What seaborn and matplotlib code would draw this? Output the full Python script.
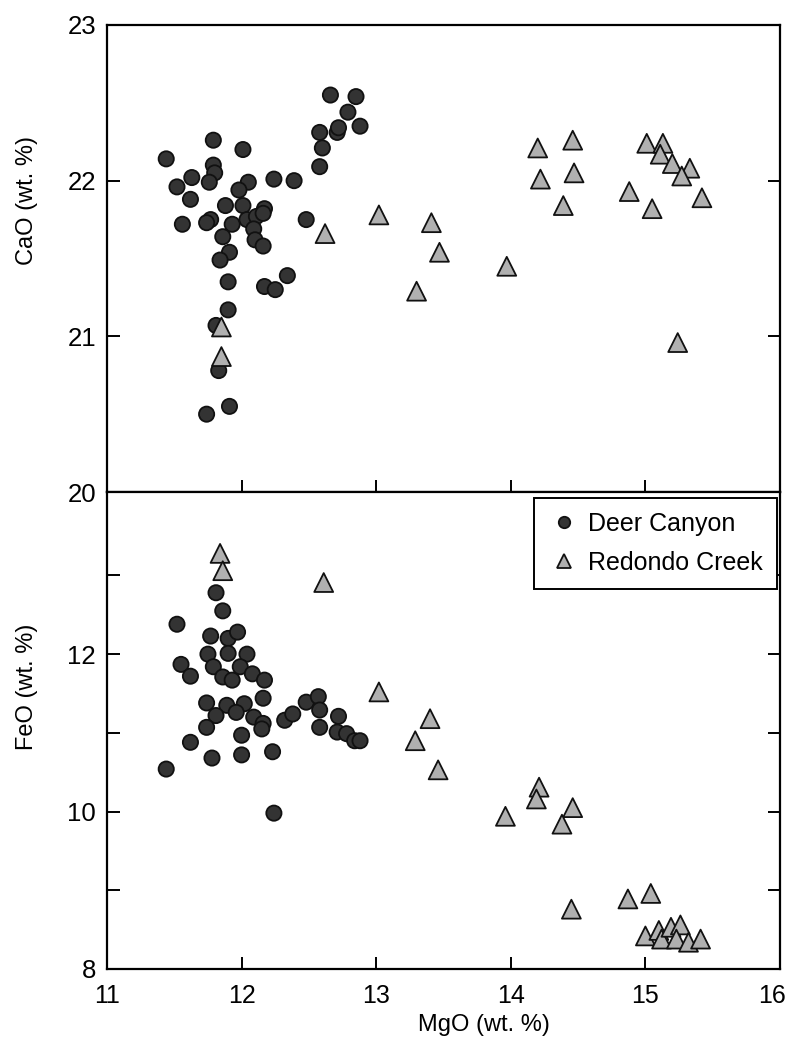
import matplotlib
matplotlib.use("Agg")
import matplotlib.pyplot as plt
import matplotlib.transforms as mtransforms
import seaborn as sns
import pandas as pd

# ---------------- data ----------------
localities = ["Deer Canyon", "Redondo Creek"]

# Upper panel: CaO vs MgO
dc_mgo_top = [12.66, 12.58, 12.71, 12.60, 12.58, 11.79, 12.01, 11.44, 11.79, 11.80,
              11.76, 11.63, 11.52, 11.62, 12.05, 11.98, 12.24, 12.39, 11.88, 11.56,
              11.77, 11.74, 12.01, 12.17, 11.93, 12.04, 12.11, 12.16, 12.09, 12.10,
              12.16, 11.86, 11.91, 11.84, 12.48, 12.34, 12.17, 12.25, 11.90, 11.90,
              11.81, 11.83, 11.91, 11.74, 12.85, 12.79, 12.72, 12.88]
dc_cao = [22.55, 22.31, 22.31, 22.21, 22.09, 22.26, 22.20, 22.14, 22.10, 22.05,
          21.99, 22.02, 21.96, 21.88, 21.99, 21.94, 22.01, 22.00, 21.84, 21.72,
          21.75, 21.73, 21.84, 21.82, 21.72, 21.75, 21.77, 21.79, 21.69, 21.62,
          21.58, 21.64, 21.54, 21.49, 21.75, 21.39, 21.32, 21.30, 21.35, 21.17,
          21.07, 20.78, 20.55, 20.50, 22.54, 22.44, 22.34, 22.35]

rc_mgo_top = [12.62, 11.85, 11.85, 13.02, 13.41, 13.47, 13.30, 13.97, 14.20, 14.46,
              14.22, 14.47, 14.39, 14.88, 15.01, 15.13, 15.11, 15.20, 15.33, 15.27,
              15.05, 15.42, 15.24]
rc_cao = [21.66, 21.06, 20.87, 21.78, 21.73, 21.54, 21.29, 21.45, 22.21, 22.26,
          22.01, 22.05, 21.84, 21.93, 22.24, 22.24, 22.17, 22.11, 22.08, 22.03,
          21.82, 21.89, 20.96]

# Lower panel: FeO vs MgO
dc_mgo_bot = [11.81, 11.86, 11.52, 11.77, 11.90, 11.97, 11.75, 11.90, 12.04, 11.55,
              11.62, 11.79, 11.86, 11.93, 11.99, 12.08, 12.17, 11.74, 11.89, 12.02,
              12.16, 11.81, 11.74, 11.96, 12.09, 12.16, 12.15, 12.32, 12.38, 12.48,
              12.57, 12.58, 12.58, 12.72, 12.71, 12.78, 12.84, 11.62, 12.00, 11.78,
              12.00, 12.23, 11.44, 12.24, 12.88]
dc_feo = [12.78, 12.55, 12.38, 12.23, 12.20, 12.28, 12.00, 12.01, 12.00, 11.87,
          11.72, 11.84, 11.71, 11.67, 11.84, 11.75, 11.67, 11.38, 11.35, 11.37,
          11.44, 11.22, 11.07, 11.26, 11.20, 11.12, 11.05, 11.16, 11.24, 11.39,
          11.46, 11.29, 11.07, 11.21, 11.01, 10.99, 10.90, 10.88, 10.97, 10.68,
          10.72, 10.76, 10.54, 9.98, 10.90]

rc_mgo_bot = [11.84, 11.86, 12.61, 13.02, 13.40, 13.29, 13.46, 14.21, 14.19, 13.96,
              14.46, 14.38, 14.45, 14.87, 15.04, 15.00, 15.10, 15.12, 15.19, 15.26,
              15.23, 15.32, 15.41]
rc_feo = [13.28, 13.06, 12.91, 11.52, 11.18, 10.90, 10.53, 10.31, 10.16, 9.94,
          10.05, 9.84, 8.76, 8.89, 8.96, 8.42, 8.49, 8.38, 8.53, 8.56,
          8.38, 8.34, 8.38]

x_ticks = [11, 12, 13, 14, 15, 16]
cao_ticks = [20, 21, 22, 23]
feo_ticks = [8, 9, 10, 11, 12, 13]
feo_tick_labels = ["8", "", "10", "", "12", ""]

# ---------------- frames ----------------
top_df = pd.DataFrame({
    "MgO": dc_mgo_top + rc_mgo_top,
    "CaO": dc_cao + rc_cao,
    "Locality": [localities[0]] * len(dc_mgo_top) + [localities[1]] * len(rc_mgo_top),
})
bot_df = pd.DataFrame({
    "MgO": dc_mgo_bot + rc_mgo_bot,
    "FeO": dc_feo + rc_feo,
    "Locality": [localities[0]] * len(dc_mgo_bot) + [localities[1]] * len(rc_mgo_bot),
})

# ---------------- style ----------------
sns.set_theme(style="white")
plt.rcParams["font.family"] = ["Liberation Sans", "DejaVu Sans"]
plt.rcParams["text.color"] = "black"
plt.rcParams["axes.labelcolor"] = "black"
plt.rcParams["xtick.color"] = "black"
plt.rcParams["ytick.color"] = "black"

palette = {localities[0]: "#333333", localities[1]: "#b0b0b0"}
markers = {localities[0]: "o", localities[1]: "^"}
sizes = {localities[0]: 120, localities[1]: 185}

fig = plt.figure(figsize=(7.92, 10.49), dpi=100)
W, H = 792.0, 1049.0
ax_top = fig.add_axes([107 / W, 1 - 492 / H, 673 / W, 467 / H])
ax_bot = fig.add_axes([107 / W, 1 - 969 / H, 673 / W, 477 / H])

common = dict(hue="Locality", style="Locality", size="Locality",
              hue_order=localities, style_order=localities, size_order=localities,
              palette=palette, markers=markers, sizes=sizes,
              edgecolor="#111111", linewidth=1.3, zorder=3)

sns.scatterplot(data=top_df, x="MgO", y="CaO", legend=False, ax=ax_top, **common)
sns.scatterplot(data=bot_df, x="MgO", y="FeO", legend=True, ax=ax_bot, **common)

tick_kw = dict(direction="in", length=9, width=1.4, colors="black",
               labelsize=18.5, pad=8)

for ax in (ax_top, ax_bot):
    ax.set_xlim(11, 16)
    ax.set_xticks(x_ticks)
    for sp in ax.spines.values():
        sp.set_visible(True)
        sp.set_linewidth(1.6)
        sp.set_color("black")
    ax.tick_params(axis="both", which="major", left=True, right=True,
                   bottom=True, top=False, **tick_kw)
    ax.grid(False)

ax_top.set_ylim(20, 23)
ax_top.set_yticks(cao_ticks)
ax_top.tick_params(axis="x", labelbottom=False)
ax_top.set_xlabel("")
ax_top.set_ylabel("CaO (wt. %)", fontsize=17, color="black")
ax_top.yaxis.set_label_coords(-0.103, 0.625)

ax_bot.set_ylim(8, 14.06)
ax_bot.set_yticks(feo_ticks)
ax_bot.set_yticklabels(feo_tick_labels)
ax_bot.tick_params(axis="x", pad=11, labelsize=18)
ax_bot.set_xlabel("MgO (wt. %)", fontsize=17, color="black")
ax_bot.xaxis.set_label_coords(0.56, -0.094)
ax_bot.set_ylabel("FeO (wt. %)", fontsize=17, color="black")
ax_bot.yaxis.set_label_coords(-0.103, 0.591)

# nudge the last x tick label ("16") inward so it stays inside the figure
last_lbl = ax_bot.get_xticklabels()[-1]
last_lbl.set_transform(last_lbl.get_transform() +
                       mtransforms.ScaledTranslation(-6 / 72, 0, fig.dpi_scale_trans))

handles, labels = ax_bot.get_legend_handles_labels()
leg = ax_bot.legend(handles, labels, loc="upper right",
                    bbox_to_anchor=(1 - 3 / 673, 1 - 6 / 477),
                    borderaxespad=0, fontsize=18, frameon=True, fancybox=False,
                    framealpha=1, edgecolor="black", markerscale=0.75,
                    handletextpad=0.35, labelspacing=0.6, borderpad=0.55,
                    handlelength=1.3)
leg.get_frame().set_linewidth(1.4)
for t in leg.get_texts():
    t.set_color("black")

fig.savefig("out.png", dpi=100)
